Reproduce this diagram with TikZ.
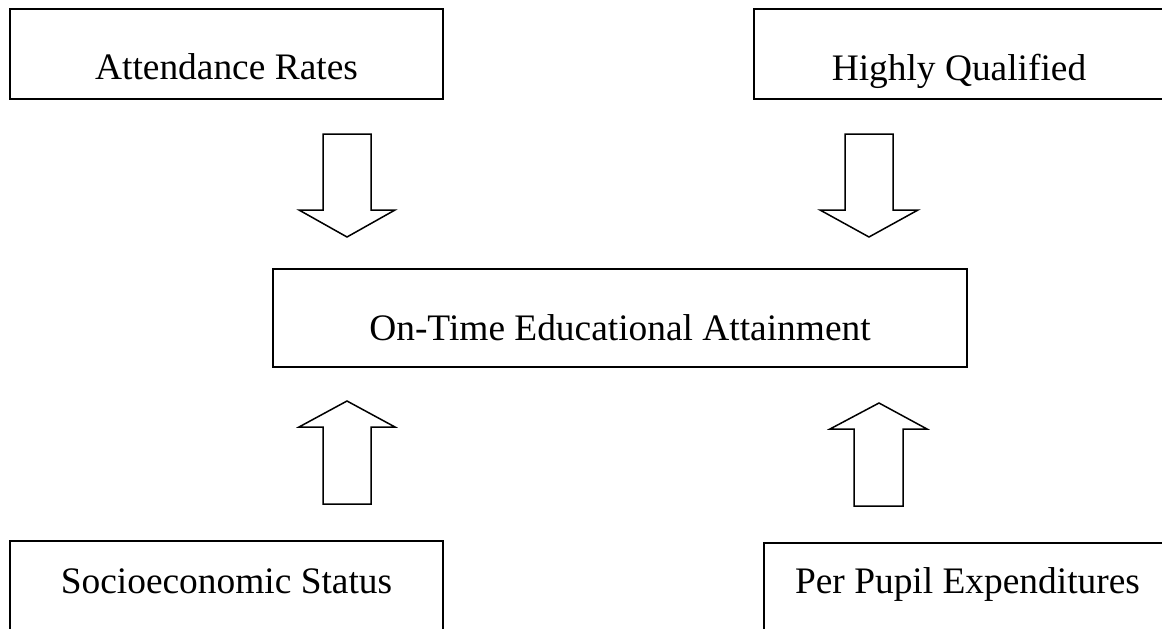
\documentclass[tikz,border=0pt]{standalone}
\usepackage{fontspec}
\setmainfont{Liberation Serif}

\tikzset{
    factor/.style={draw, line width=2pt, inner sep=0pt, anchor=base,
        font=\fontsize{37.4}{44}\selectfont},
    blockarrow/.style={draw, line width=1.5pt, line join=miter, fill=white}
}

\begin{document}
\begin{tikzpicture}[x=1pt,y=-1pt]
        \useasboundingbox (0,0) rectangle (1162,629);
        % factors
        \node [factor, minimum width=433pt, text height=70pt, text depth=20pt] (att) at (226.5,79) {Attendance Rates};
        \node [factor, minimum width=410pt, text height=71pt, text depth=19pt] (hq) at (959,80) {Highly Qualified};
        \node [factor, minimum width=694pt, text height=71pt, text depth=27pt] (ota) at (620,340) {On-Time Educational Attainment};
        \node [factor, minimum width=433pt, text height=52pt, text depth=48pt] (ses) at (226.5,593) {Socioeconomic Status};
        \node [factor, minimum width=407pt, text height=50pt, text depth=48pt] (ppe) at (967.5,593) {Per Pupil Expenditures};
        % arrows down
        \draw [blockarrow] (323,134) -- (371,134) -- (371,210) -- (395,210) -- (347,237) -- (299,210) -- (323,210) -- cycle;
        \draw [blockarrow] (845,134) -- (893,134) -- (893,210) -- (918,210) -- (869,237) -- (820,210) -- (845,210) -- cycle;
        % arrows up
        \draw [blockarrow] (323,504) -- (371,504) -- (371,427) -- (395,427) -- (347,401) -- (299,427) -- (323,427) -- cycle;
        \draw [blockarrow] (854,506) -- (903,506) -- (903,429) -- (927,429) -- (879,403) -- (830,429) -- (854,429) -- cycle;
\end{tikzpicture}
\end{document}
